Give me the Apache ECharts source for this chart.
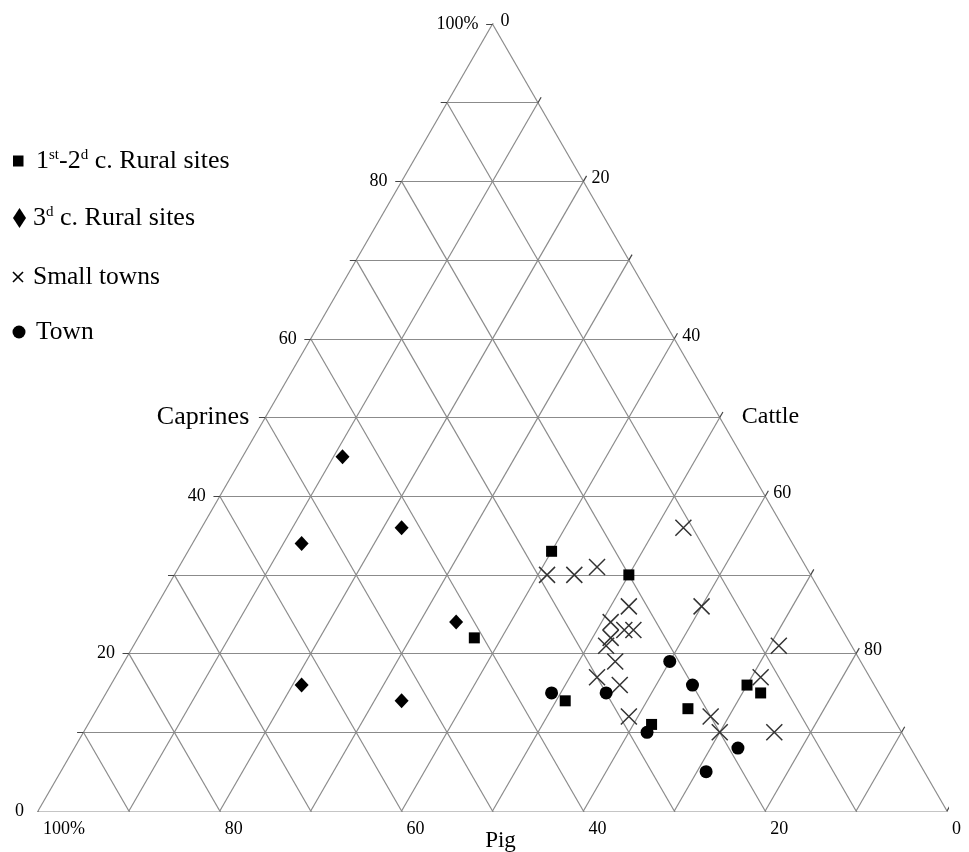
<!DOCTYPE html>
<html>
<head>
<meta charset="utf-8">
<script src="https://cdn.jsdelivr.net/npm/echarts@6/dist/echarts.min.js"></script>
<style>
  html, body { margin: 0; padding: 0; background: #ffffff; }
  #chart { width: 969px; height: 852px; }
</style>
</head>
<body>
<div id="chart"></div>
<script>
// Species composition (% of Pig, Caprines, Cattle) of bone assemblages.

// 1st-2nd c. rural sites
const earlyRuralPig      = [41, 27, 20, 35, 27, 22, 14, 13];
const earlyRuralCaprines = [22, 33, 30, 14, 11, 13, 16, 15];
const earlyRuralCattle   = [37, 40, 50, 51, 62, 65, 70, 72];

// 3rd c. rural sites
const lateRuralPig      = [44, 42, 54, 42, 63, 53];
const lateRuralCaprines = [45, 36, 34, 24, 16, 14];
const lateRuralCattle   = [11, 22, 12, 34, 21, 33];

// Small towns
const smallTownPig      = [11, 29, 26, 23, 22, 14, 25, 24, 23, 26, 27, 27, 30, 28, 29, 20, 20, 12, 8, 14];
const smallTownCaprines = [36, 30, 30, 31, 26, 26, 24, 23, 23, 22, 21, 19, 17, 16, 12, 12, 10, 17, 21, 10];
const smallTownCattle   = [53, 41, 44, 46, 52, 60, 51, 53, 54, 52, 52, 54, 53, 56, 59, 68, 70, 71, 71, 76];

// Town
const townPig      = [36, 30, 21, 20, 28, 19, 24];
const townCaprines = [15, 15, 19, 16, 10, 8, 5];
const townCattle   = [49, 55, 60, 64, 62, 73, 71];

// Axis graduations
const gridLevels = [10, 20, 30, 40, 50, 60, 70, 80, 90];
const tickLevels = [0, 10, 20, 30, 40, 50, 60, 70, 80, 90, 100];
const caprinesTickValues = [0, 20, 40, 60, 80, 100];
const caprinesTickLabels = ['0', '20', '40', '60', '80', '100%'];
const cattleTickValues = [0, 20, 40, 60, 80];
const cattleTickLabels = ['0', '20', '40', '60', '80'];
const pigTickValues = [100, 80, 60, 40, 20, 0];
const pigTickLabels = ['100%', '80', '60', '40', '20', '0'];

const H = Math.sqrt(3) / 2;
// barycentric (pig, caprines, cattle) -> plane: cattle corner bottom-right, caprines at apex
function toXY(pig, caprines, cattle) {
  return [cattle + caprines / 2, caprines * H];
}
function points(pig, cap, cat) {
  return pig.map((p, i) => toXY(p, cap[i], cat[i]));
}

const SERIF = 'Liberation Serif';
const GRID_COLOR = '#8b8b8b';
const INK = '#000';

// triangle edges and 10 % iso-lines
const gridSegs = [
  [toXY(100, 0, 0), toXY(0, 0, 100)],
  [toXY(100, 0, 0), toXY(0, 100, 0)],
  [toXY(0, 0, 100), toXY(0, 100, 0)]
];
gridLevels.forEach(k => {
  gridSegs.push([toXY(100 - k, k, 0), toXY(0, k, 100 - k)]);   // constant caprines
  gridSegs.push([toXY(100 - k, 0, k), toXY(0, 100 - k, k)]);   // constant cattle
  gridSegs.push([toXY(k, 0, 100 - k), toXY(k, 100 - k, 0)]);   // constant pig
});

// short outward ticks on each side
const TL = 0.7;
const tickSegs = [];
tickLevels.forEach(k => {
  const a = toXY(100 - k, k, 0);
  tickSegs.push([a, [a[0] - TL, a[1]]]);
  const b = toXY(0, 100 - k, k);
  tickSegs.push([b, [b[0] + TL * 0.5, b[1] + TL * H]]);
  const c = toXY(k, 0, 100 - k);
  tickSegs.push([c, [c[0] + TL * 0.5, c[1] - TL * H]]);
});

function labelSeries(data, label) {
  return {
    type: 'scatter',
    silent: true,
    symbolSize: 0,
    itemStyle: { color: 'transparent', opacity: 1 },
    data: data,
    z: 5,
    label: Object.assign({
      show: true,
      formatter: p => p.value[2],
      color: INK,
      opacity: 1,
      fontFamily: SERIF,
      fontSize: 18
    }, label)
  };
}

const leftLabelData = caprinesTickValues.map((v, i) => toXY(100 - v, v, 0).concat(caprinesTickLabels[i]));
const rightLabelData = cattleTickValues.map((v, i) => toXY(0, 100 - v, v).concat(cattleTickLabels[i]));
const bottomLabelData = pigTickValues.map((v, i) => toXY(v, 0, 100 - v).concat(pigTickLabels[i]));

const crossPath = 'path://M0,0L10,10M10,0L0,10';

const chart = echarts.init(document.getElementById('chart'), null, { renderer: 'canvas' });

const supStyle = { fontFamily: SERIF, fontSize: 15, fill: INK, verticalAlign: 'top' };

const option = {
  animation: false,
  backgroundColor: '#ffffff',
  grid: { left: 38, top: 24, width: 909, height: 787, containLabel: false },
  xAxis: { type: 'value', min: 0, max: 100, show: false },
  yAxis: { type: 'value', min: 0, max: 100 * H, show: false },
  series: [
    {
      type: 'lines', coordinateSystem: 'cartesian2d', silent: true, z: 1,
      data: gridSegs.map(s => ({ coords: s })),
      lineStyle: { color: GRID_COLOR, width: 1.2, opacity: 1 }
    },
    {
      type: 'lines', coordinateSystem: 'cartesian2d', silent: true, z: 1,
      data: tickSegs.map(s => ({ coords: s })),
      lineStyle: { color: '#444', width: 1.2, opacity: 1 }
    },
    labelSeries(leftLabelData, { position: 'left', distance: 14 }),
    labelSeries(rightLabelData, { position: [8, -3], align: 'left', verticalAlign: 'middle' }),
    labelSeries(bottomLabelData, { position: [5, 18], align: 'left', verticalAlign: 'middle' }),
    labelSeries([toXY(50, 50, 0).concat('Caprines')], { position: 'left', distance: 16, fontSize: 26 }),
    labelSeries([toXY(0, 50, 50).concat('Cattle')], { position: 'right', distance: 22, fontSize: 24, offset: [0, -1] }),
    labelSeries([toXY(50, 0, 50).concat('Pig')], { position: [8, 30], align: 'center', verticalAlign: 'middle', fontSize: 23 }),
    {
      name: '1st-2d c. Rural sites', type: 'scatter', z: 10,
      symbol: 'rect', symbolSize: 11,
      itemStyle: { color: INK, opacity: 1 },
      data: points(earlyRuralPig, earlyRuralCaprines, earlyRuralCattle)
    },
    {
      name: '3d c. Rural sites', type: 'scatter', z: 10,
      symbol: 'diamond', symbolSize: [14, 15],
      itemStyle: { color: INK, opacity: 1 },
      data: points(lateRuralPig, lateRuralCaprines, lateRuralCattle)
    },
    {
      name: 'Small towns', type: 'scatter', z: 9,
      symbol: crossPath, symbolSize: 16,
      itemStyle: { color: 'transparent', borderColor: '#333', borderWidth: 1.5, opacity: 1 },
      data: points(smallTownPig, smallTownCaprines, smallTownCattle)
    },
    {
      name: 'Town', type: 'scatter', z: 10,
      symbol: 'circle', symbolSize: 13,
      itemStyle: { color: INK, opacity: 1 },
      data: points(townPig, townCaprines, townCattle)
    }
  ],
  graphic: [
    // key
    { type: 'rect', shape: { x: 13, y: 155.5, width: 10.5, height: 11 }, style: { fill: INK } },
    {
      type: 'text', x: 36, y: 161,
      style: {
        text: '1{sup|st}-2{sup|d} c. Rural sites',
        fontFamily: SERIF, fontSize: 26, fill: INK, verticalAlign: 'middle',
        rich: { sup: supStyle }
      }
    },
    { type: 'polygon', shape: { points: [[19.5, 208], [26, 218], [19.5, 228], [13, 218]] }, style: { fill: INK } },
    {
      type: 'text', x: 33, y: 218,
      style: {
        text: '3{sup|d} c. Rural sites',
        fontFamily: SERIF, fontSize: 26, fill: INK, verticalAlign: 'middle',
        rich: { sup: supStyle }
      }
    },
    { type: 'line', shape: { x1: 13, y1: 272, x2: 23, y2: 282 }, style: { stroke: INK, lineWidth: 1.6 } },
    { type: 'line', shape: { x1: 23, y1: 272, x2: 13, y2: 282 }, style: { stroke: INK, lineWidth: 1.6 } },
    { type: 'text', x: 33, y: 277, style: { text: 'Small towns', fontFamily: SERIF, fontSize: 25.5, fill: INK, verticalAlign: 'middle' } },
    { type: 'circle', shape: { cx: 19, cy: 332, r: 6.5 }, style: { fill: INK } },
    { type: 'text', x: 36, y: 332, style: { text: 'Town', fontFamily: SERIF, fontSize: 25.5, fill: INK, verticalAlign: 'middle' } }
  ]
};

chart.setOption(option);
</script>
</body>
</html>
